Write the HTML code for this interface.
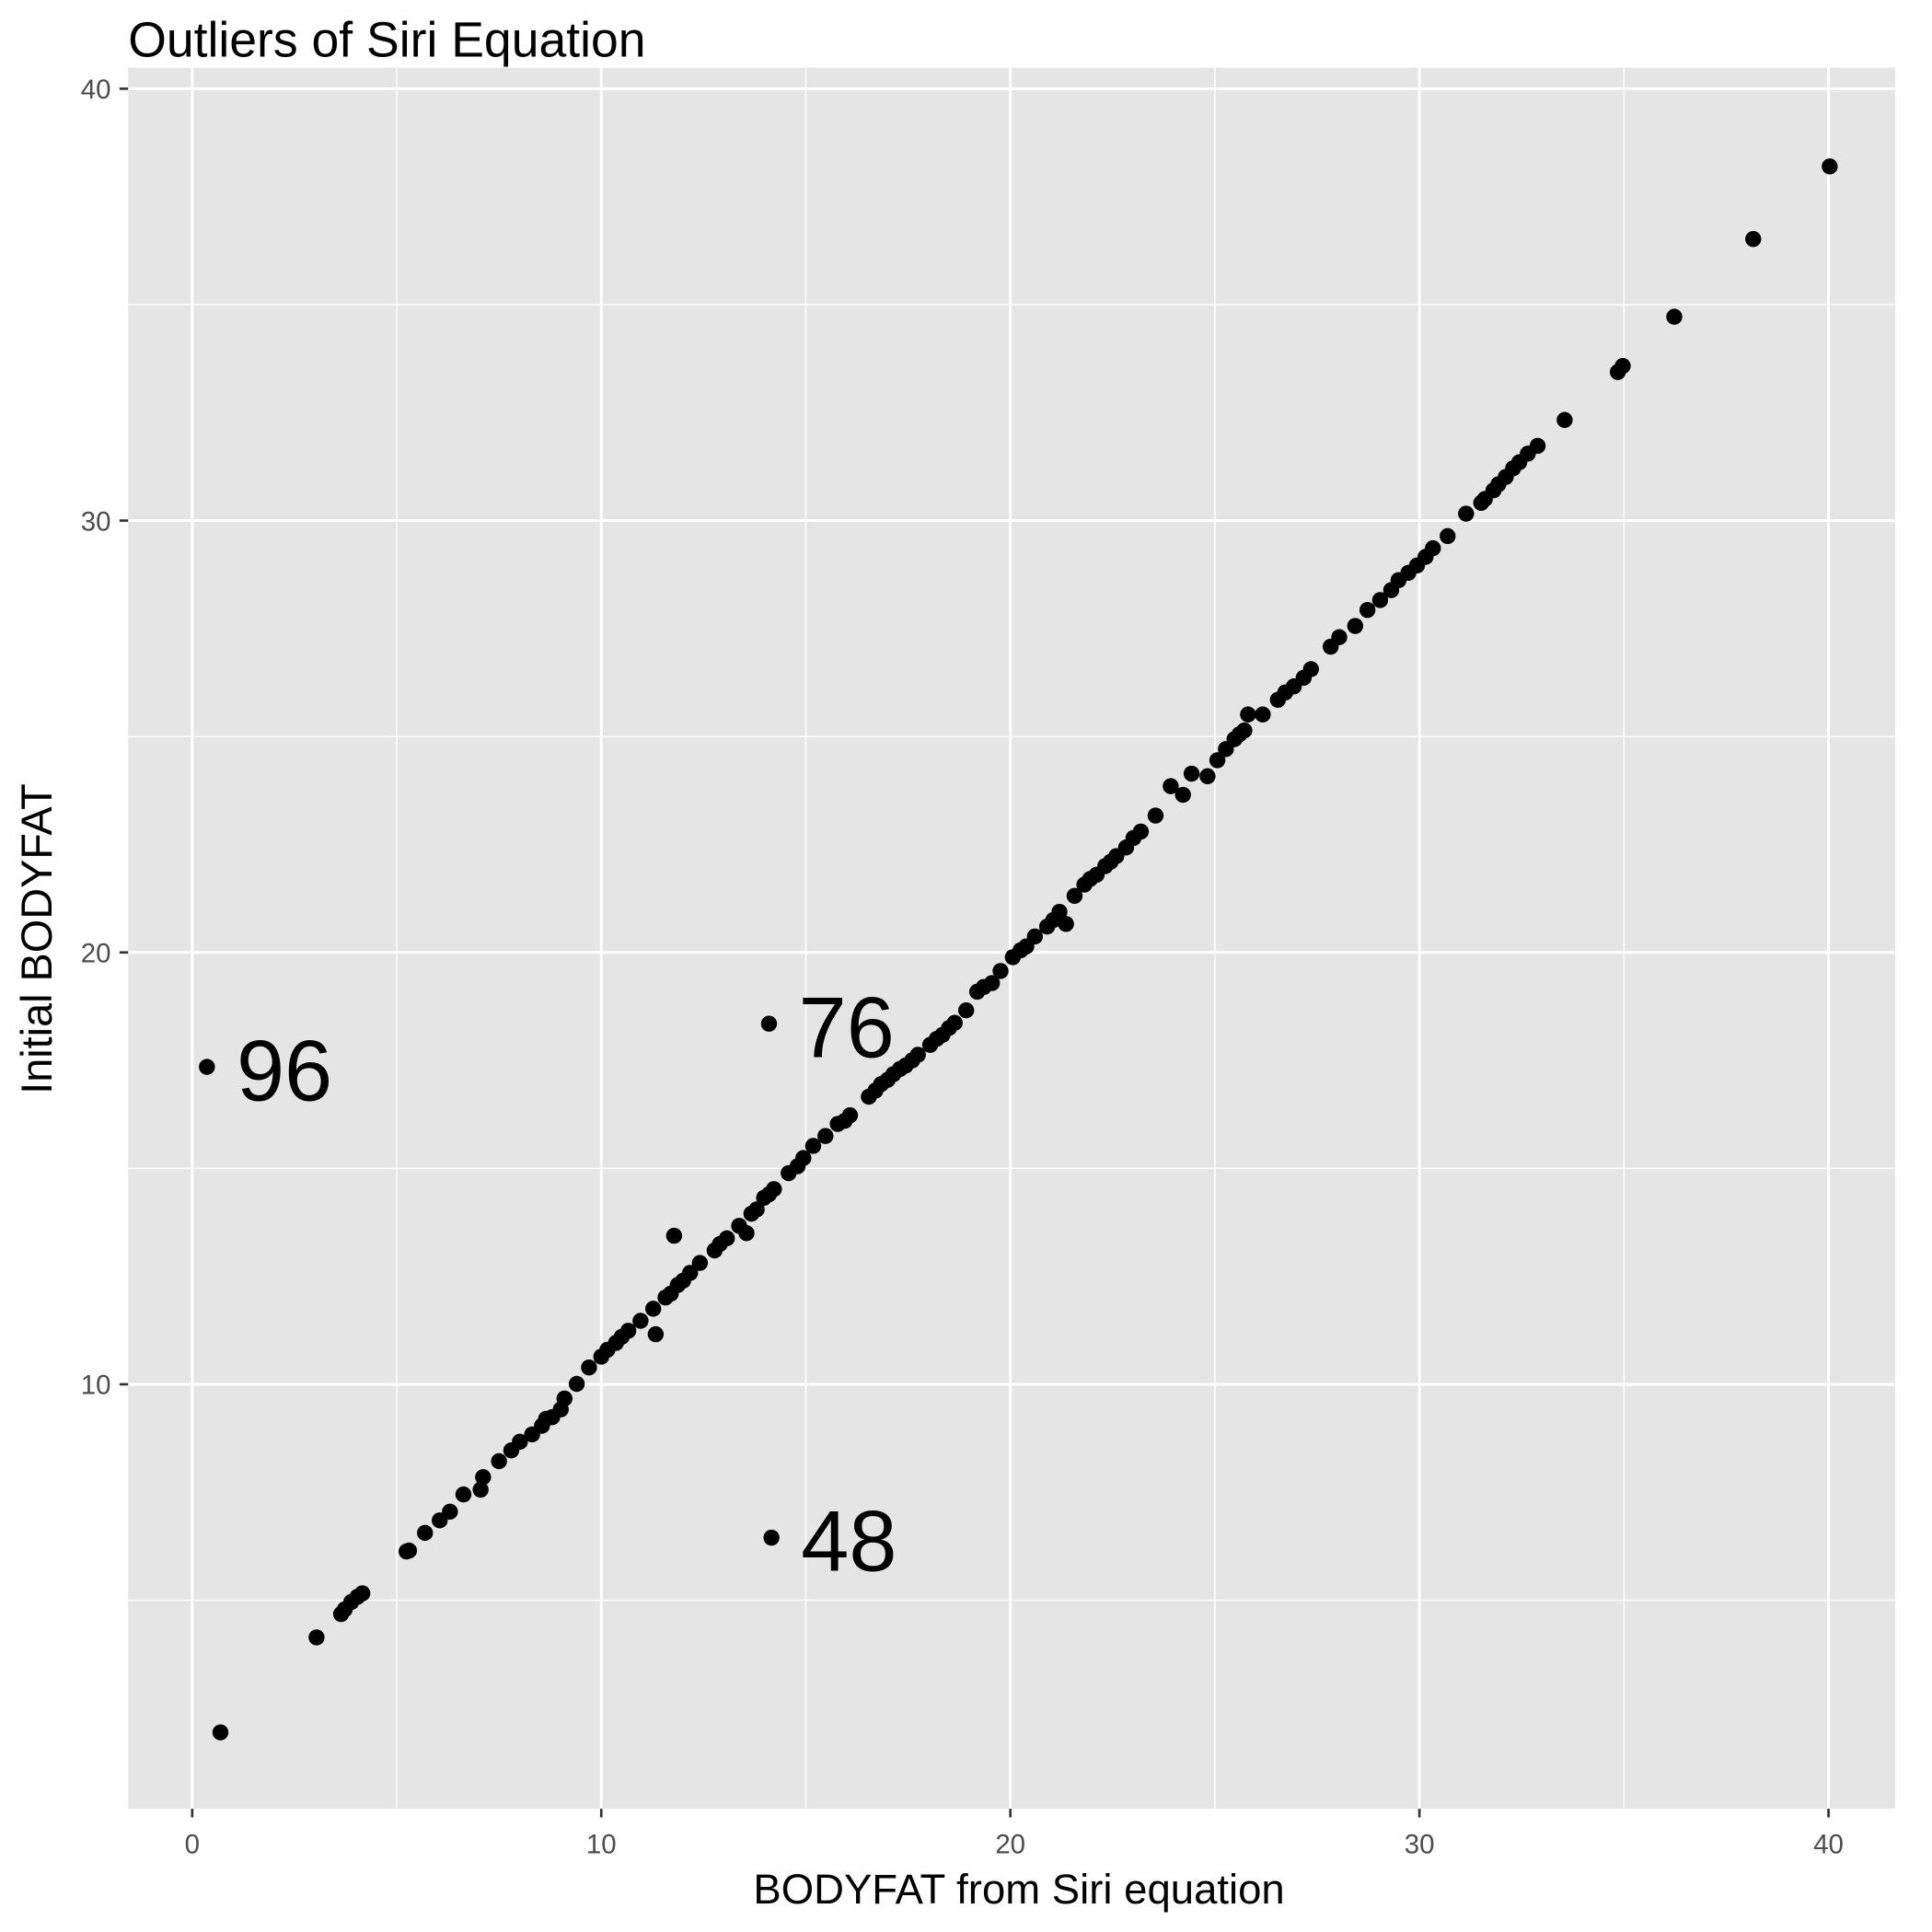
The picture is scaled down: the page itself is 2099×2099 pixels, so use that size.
<!DOCTYPE html>
<html><head><meta charset="utf-8"><style>html,body{margin:0;padding:0;background:#fff}svg{display:block}</style></head>
<body>
<svg id="chart" width="2099" height="2099" viewBox="0 0 1568 1568" xmlns="http://www.w3.org/2000/svg" font-family="Liberation Sans, Arial, sans-serif">
<rect width="1568" height="1568" fill="#fff"/>
<text x="104" y="46" font-size="40" fill="#000">Outliers of Siri Equation</text>
<rect x="104" y="55" width="1434" height="1413" fill="#e5e5e5"/>
<g id="grid"></g><g id="axes"></g><g id="points"></g><g id="labels"></g>
<text x="827" y="1545" font-size="34" text-anchor="middle" fill="#000">BODYFAT from Siri equation</text>
<text transform="translate(42,762) rotate(-90)" font-size="35" text-anchor="middle" fill="#000">Initial BODYFAT</text>
</svg>
<script>
const xTicks=[0,10,20,30,40];
const yTicks=[10,20,30,40];
const xMinor=[5,15,25,35];
const yMinor=[5,15,25,35];
const siriX=[0.69,3.04,3.64,3.73,3.89,4.04,4.16,5.24,5.30,5.69,6.05,6.30,6.63,7.05,7.11,7.50,7.80,8.01,8.31,8.55,8.65,8.80,9.01,9.10,9.40,9.70,10.00,10.15,10.36,10.50,10.66,10.96,11.27,11.57,11.70,11.87,12.00,12.17,12.41,12.77,12.90,13.07,13.37,13.67,13.80,13.98,14.10,14.22,14.58,14.80,14.94,15.18,15.48,15.78,15.95,16.08,16.54,16.70,16.84,17.00,17.14,17.30,17.44,17.60,17.74,18.04,18.20,18.34,18.50,18.64,18.92,19.19,19.35,19.55,19.76,20.06,20.25,20.39,20.60,20.90,21.05,21.20,21.36,21.57,21.81,21.95,22.11,22.32,22.45,22.59,22.83,23.01,23.19,23.55,23.92,24.22,24.43,24.82,25.06,25.27,25.48,25.60,25.72,25.81,26.17,26.54,26.72,26.93,27.17,27.35,27.83,28.04,28.43,28.73,29.04,29.31,29.49,29.73,29.94,30.15,30.33,30.69,31.14,31.51,31.60,31.81,31.93,32.11,32.29,32.44,32.65,32.89,33.55,34.85,34.97,36.23,38.16,40.03,11.78,11.33,13.55,0.36,14.10,14.16];
const initialY=[1.94,4.14,4.68,4.79,4.96,5.08,5.16,6.13,6.15,6.56,6.85,7.05,7.45,7.56,7.85,8.22,8.47,8.67,8.84,9.04,9.20,9.24,9.42,9.67,10.01,10.39,10.64,10.80,10.96,11.10,11.24,11.47,11.75,12.01,12.10,12.30,12.40,12.58,12.81,13.10,13.25,13.38,13.67,13.95,14.05,14.32,14.40,14.52,14.89,15.05,15.24,15.52,15.75,16.03,16.10,16.23,16.66,16.80,16.95,17.05,17.18,17.30,17.38,17.50,17.63,17.86,18.00,18.09,18.25,18.37,18.66,19.09,19.20,19.29,19.57,19.89,20.05,20.14,20.37,20.60,20.75,20.94,20.66,21.31,21.57,21.70,21.80,22.00,22.10,22.23,22.43,22.65,22.80,23.17,23.85,23.65,24.14,24.08,24.45,24.71,24.94,25.05,25.14,25.51,25.51,25.85,26.02,26.16,26.36,26.56,27.08,27.30,27.56,27.93,28.16,28.39,28.62,28.79,28.96,29.16,29.36,29.64,30.16,30.41,30.50,30.70,30.84,31.01,31.21,31.35,31.55,31.73,32.33,33.44,33.58,34.72,36.52,38.20,13.44,11.16,13.50,17.35,18.35,6.45];
const labelNames=["96","76","48"];
const labelX=[0.36,14.10,14.16];
const labelY=[17.35,18.35,6.45];

const NS="http://www.w3.org/2000/svg";
const sx=v=>156+v*33.2;
const sy=v=>773-(v-20)*35.05;
function mk(tag,attrs,parent){const e=document.createElementNS(NS,tag);for(const k in attrs)e.setAttribute(k,attrs[k]);parent.appendChild(e);return e;}
const grid=document.getElementById('grid'),axes=document.getElementById('axes'),pts=document.getElementById('points'),lab=document.getElementById('labels');
xMinor.forEach(v=>{const l=mk('line',{x1:sx(v),x2:sx(v),y1:55,y2:1468,stroke:'#fff','stroke-width':1.1},grid);

});
yMinor.forEach(v=>{const l=mk('line',{x1:104,x2:1538,y1:sy(v),y2:sy(v),stroke:'#fff','stroke-width':1.1},grid);

});
xTicks.forEach(v=>{const l=mk('line',{x1:sx(v),x2:sx(v),y1:55,y2:1468,stroke:'#fff','stroke-width':2.2},grid);


const t=mk('line',{x1:sx(v),x2:sx(v),y1:1468,y2:1475,stroke:'#333','stroke-width':2},axes);


const tx=mk('text',{x:sx(v),y:1504,'font-size':22,'text-anchor':'middle',fill:'#4d4d4d'},axes);tx.textContent=v;

});
yTicks.forEach(v=>{const l=mk('line',{x1:104,x2:1538,y1:sy(v),y2:sy(v),stroke:'#fff','stroke-width':2.2},grid);


const t=mk('line',{x1:97,x2:104,y1:sy(v),y2:sy(v),stroke:'#333','stroke-width':2},axes);


const tx=mk('text',{x:90,y:sy(v)+8,'font-size':22,'text-anchor':'end',fill:'#4d4d4d'},axes);tx.textContent=v;

});
siriX.forEach((v,i)=>{const c=mk('circle',{cx:sx(v),cy:sy(initialY[i]),r:6.5,fill:'#000'},pts);

});
labelNames.forEach((n,i)=>{const t=mk('text',{x:sx(labelX[i])+24,y:sy(labelY[i])+27,'font-size':70,fill:'#000'},lab);t.textContent=n;

});
</script>
</body></html>
